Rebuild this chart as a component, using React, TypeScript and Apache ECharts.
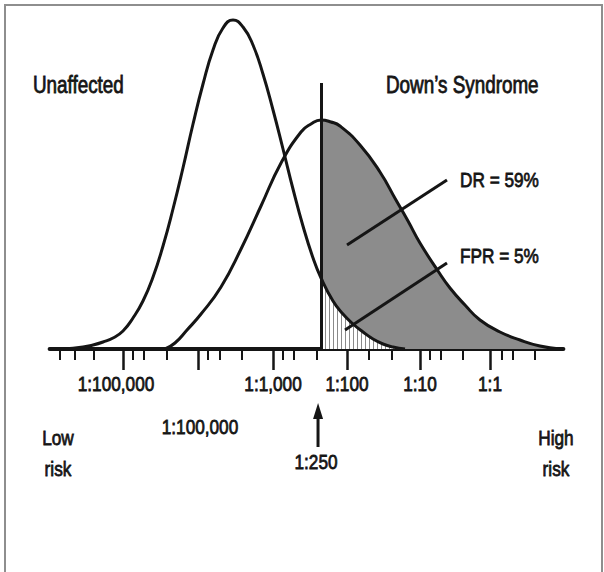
import React, { useEffect, useRef } from "react";
import * as echarts from "echarts";

// x values are log10 of the risk odds (1:1 = 0, 1:10 = -1, ... 1:100,000 = -5)
// y values are relative density
const unaffectedCurve: [number, number][] = [
  [-5.817, 0], [-5.545, 2], [-5.409, 4], [-5.272, 7], [-5.136, 11], [-5.0, 18],
  [-4.864, 31], [-4.728, 48], [-4.591, 72], [-4.455, 103], [-4.319, 140],
  [-4.183, 181], [-4.046, 225], [-3.91, 265], [-3.774, 299], [-3.638, 321],
  [-3.501, 329], [-3.365, 322], [-3.229, 304], [-3.093, 275], [-2.956, 239],
  [-2.82, 200], [-2.684, 160], [-2.548, 123], [-2.411, 91], [-2.302, 71],
  [-2.139, 48], [-2.003, 35], [-1.866, 25], [-1.73, 17], [-1.594, 10],
  [-1.458, 5], [-1.322, 2], [-1.158, 0],
];
const unaffectedTail: [number, number][] = [
  [-2.302, 71], [-2.139, 48], [-2.003, 35], [-1.866, 25], [-1.73, 17],
  [-1.594, 10], [-1.458, 5], [-1.322, 2], [-1.158, 0],
];
const downsCurve: [number, number][] = [
  [-4.428, 0], [-4.292, 6], [-4.128, 19], [-3.937, 35], [-3.665, 62],
  [-3.392, 100], [-3.12, 143], [-2.847, 186], [-2.575, 217], [-2.439, 225],
  [-2.302, 229], [-2.166, 227], [-2.044, 223], [-1.771, 204], [-1.499, 177],
  [-1.281, 149], [-1.117, 128], [-0.954, 106], [-0.708, 78], [-0.545, 61],
  [-0.341, 44], [-0.136, 29], [0.136, 17], [0.409, 9], [0.681, 3], [0.954, 0],
];
const downsTail: [number, number][] = [
  [-2.302, 229], [-2.166, 227], [-2.044, 223], [-1.771, 204], [-1.499, 177],
  [-1.281, 149], [-1.117, 128], [-0.954, 106], [-0.708, 78], [-0.545, 61],
  [-0.341, 44], [-0.136, 29], [0.136, 17], [0.409, 9], [0.681, 3], [0.954, 0],
];

const cutoff = -2.302; // 1:250
const cutoffTop = 266;
const drLine: [number, number][] = [[-1.948, 104], [-0.586, 169]];
const fprLine: [number, number][] = [[-1.975, 19], [-0.586, 86]];

const majorTicks = [-5.0, -3.978, -2.956, -1.948, -0.954, 0];
const minorTicks = [
  -5.858, -5.654, -5.395, -4.864, -4.714, -4.401, -3.842, -3.678, -3.379,
  -2.82, -2.67, -2.357, -1.649, -1.335, -0.817, -0.668, -0.368, 0.163, 0.313, 0.613,
];
const tickLabelPositions = [-5.095, -2.956, -1.948, -0.954, 0];
const tickLabels = ["1:100,000", "1:1,000", "1:100", "1:10", "1:1"];
const secondRowPositions = [-3.951];
const secondRowLabels = ["1:100,000"];

const FONT = "'Liberation Sans', Arial, Helvetica, sans-serif";
const NARROW = 0.82;
const INK = "#151515";

export default function App() {
  const ref = useRef<HTMLDivElement>(null);
  useEffect(() => {
    if (!ref.current) return;
    const chart = echarts.init(ref.current, null, { renderer: "svg" });
    const cv = document.createElement("canvas");
    cv.width = 4;
    cv.height = 4;
    const ctx = cv.getContext("2d")!;
    ctx.fillStyle = "#ffffff";
    ctx.fillRect(0, 0, 4, 4);
    ctx.fillStyle = "#8a8a8a";
    ctx.fillRect(1, 0, 1, 4);

    const txt = (text: string, x: number, y: number, size: number, align = "left") => ({
      type: "text",
      x,
      y,
      scaleX: NARROW,
      silent: true,
      style: {
        text,
        fontSize: size,
        fontFamily: FONT,
        fill: INK,
        stroke: INK,
        lineWidth: 0.8,
        align,
        verticalAlign: "middle",
      },
    });

    const commonAxis = {
      type: "value",
      min: -6,
      max: 1,
      position: "bottom",
      offset: 0,
      splitLine: { show: false },
      axisLabel: { show: false },
    };

    chart.setOption({
      animation: false,
      backgroundColor: "#ffffff",
      grid: { left: 49.6, right: 40.6, top: 19, bottom: 223 },
      xAxis: [
        {
          ...commonAxis,
          axisLine: { show: true, onZero: false, lineStyle: { color: INK, width: 4 } },
          axisTick: {
            show: true,
            customValues: majorTicks,
            length: 21,
            lineStyle: { color: INK, width: 2.5 },
          },
        },
        {
          ...commonAxis,
          axisLine: { show: false, onZero: false },
          axisTick: {
            show: true,
            customValues: minorTicks,
            length: 11,
            lineStyle: { color: INK, width: 2 },
          },
        },
      ],
      yAxis: { type: "value", min: 0, max: 330, show: false },
      series: [
        {
          type: "line",
          data: downsTail,
          smooth: true,
          symbol: "none",
          lineStyle: { width: 0 },
          areaStyle: { color: "#8c8c8c", opacity: 1 },
          silent: true,
        },
        {
          type: "line",
          data: unaffectedTail,
          smooth: true,
          symbol: "none",
          lineStyle: { width: 0 },
          areaStyle: {
            color: { image: cv, repeat: "repeat", imageWidth: 4, imageHeight: 4 } as any,
            opacity: 1,
          },
          silent: true,
        },
        {
          type: "line",
          name: "Unaffected",
          data: unaffectedCurve,
          smooth: true,
          symbol: "none",
          lineStyle: { color: INK, width: 3 },
          silent: true,
        },
        {
          type: "line",
          name: "Down's Syndrome",
          data: downsCurve,
          smooth: true,
          symbol: "none",
          lineStyle: { color: INK, width: 3 },
          silent: true,
          markLine: {
            silent: true,
            symbol: ["none", "none"],
            label: { show: false },
            lineStyle: { color: INK, width: 3, type: "solid" },
            emphasis: { disabled: true },
            data: [
              [{ coord: [cutoff, 0] }, { coord: [cutoff, cutoffTop] }],
              [{ coord: drLine[0] }, { coord: drLine[1] }],
              [{ coord: fprLine[0] }, { coord: fprLine[1] }],
            ],
          },
        },
      ],
    });

    const px = (v: number) => chart.convertToPixel({ xAxisIndex: 0 }, v) as number;
    const labelGraphics = [
      ...tickLabels.map((t, i) => txt(t, px(tickLabelPositions[i]), 384, 21, "center")),
      ...secondRowLabels.map((t, i) => txt(t, px(secondRowPositions[i]), 427, 21, "center")),
    ];
    const cx = px(cutoff) - 3;

    chart.setOption({
      graphic: [
        {
          type: "rect",
          silent: true,
          shape: { x: 5, y: 5, width: 597, height: 620 },
          style: { fill: "none", stroke: "#8e8e8e", lineWidth: 2 },
        },
        ...labelGraphics,
        txt("Unaffected", 33, 85, 23),
        txt("Down\u2019s Syndrome", 386, 85, 23),
        txt("DR = 59%", 460, 180, 21),
        txt("FPR = 5%", 460, 256, 21),
        txt("Low", 58, 438, 21, "center"),
        txt("risk", 58, 469, 21, "center"),
        txt("High", 556, 438, 21, "center"),
        txt("risk", 556, 469, 21, "center"),
        txt("1:250", cx - 2, 462, 21, "center"),
        {
          type: "line",
          silent: true,
          shape: { x1: cx, y1: 447, x2: cx, y2: 414 },
          style: { stroke: INK, lineWidth: 3 },
        },
        {
          type: "polygon",
          silent: true,
          shape: { points: [[cx - 5, 419], [cx, 403], [cx + 5, 419]] },
          style: { fill: INK },
        },
      ],
    });
    return () => chart.dispose();
  }, []);
  return (
    <div
      ref={ref}
      style={{ position: "fixed", left: 0, top: 0, width: 604, height: 572, background: "#fff" }}
    />
  );
}
